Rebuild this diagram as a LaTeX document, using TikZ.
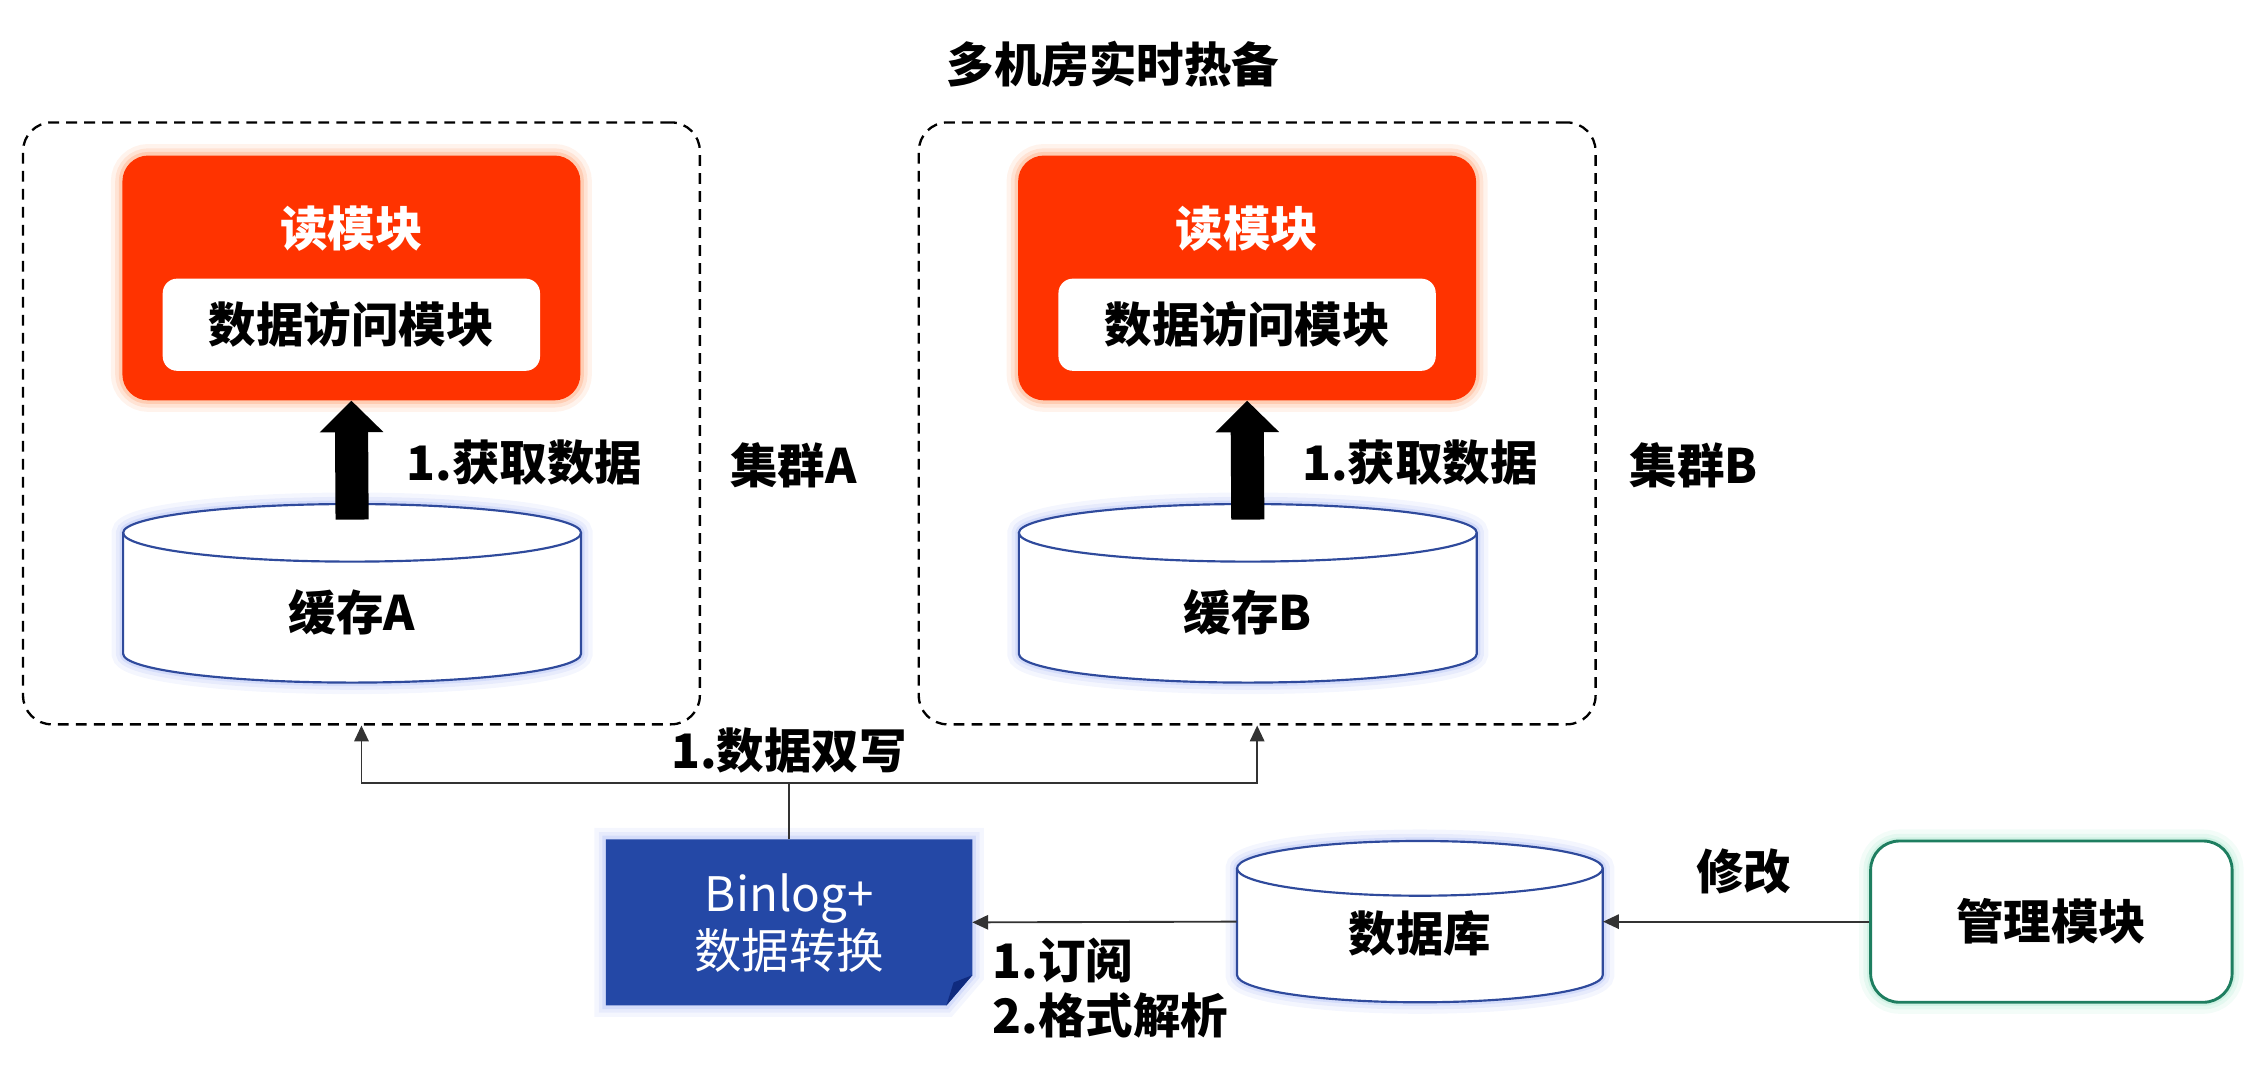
\documentclass[tikz,border=0pt]{standalone}
\usepackage{fontspec}
\setmainfont{Noto Sans CJK SC}
\usetikzlibrary{arrows.meta}
\definecolor{readred}{HTML}{FF3300}
\definecolor{redglow}{HTML}{FF9A66}
\definecolor{binblue}{HTML}{2448A6}
\definecolor{binfold}{HTML}{0F2A7E}
\definecolor{cylblue}{HTML}{2F4A9C}
\definecolor{cylglowc}{HTML}{A8B8F5}
\definecolor{mgmtgreen}{HTML}{1E7E60}
\definecolor{mgmtglowc}{HTML}{9FE5C8}
\definecolor{linegray}{HTML}{333333}
\newcommand\mycyl[5]{%
  \path[glow=cylglowc, fill=white] (#1-#2,#3+#5) -- (#1-#2,#4-#5) arc[start angle=180,end angle=0,x radius=#2,y radius=#5] -- (#1+#2,#3+#5) arc[start angle=0,end angle=-180,x radius=#2,y radius=#5] -- cycle;
  \draw[cylline] (#1-#2,#3+#5) -- (#1-#2,#4-#5) arc[start angle=180,end angle=0,x radius=#2,y radius=#5] -- (#1+#2,#3+#5);
  \draw[cylline] (#1,#3+#5) ellipse[x radius=#2,y radius=#5];
}
\begin{document}
\begin{tikzpicture}[x=1pt,y=-1pt,
  every node/.style={font=\fontsize{33}{40}\selectfont\bfseries, inner sep=0pt},
  cluster/.style={draw=black, line width=1.6pt, dash pattern=on 7.5pt off 5pt, rounded corners=20pt, minimum width=470pt, minimum height=418pt},
  glow/.style={preaction={draw=#1, draw opacity=0.12, line width=16pt}, preaction={draw=#1, draw opacity=0.18, line width=10pt}, preaction={draw=#1, draw opacity=0.3, line width=5pt}},
  readbox/.style={fill=readred, rounded corners=18pt, minimum width=318pt, minimum height=170pt, glow=redglow},
  innerbox/.style={fill=white, rounded corners=10pt, minimum width=262pt, minimum height=64pt, text=black},
  cylline/.style={draw=cylblue, line width=1.5pt},
  mgmtbox/.style={draw=mgmtgreen, line width=2pt, fill=white, rounded corners=20pt, minimum width=251pt, minimum height=112pt, glow=mgmtglowc},
  conn/.style={draw=linegray, line width=1.3pt, -{Triangle[width=10pt,length=11pt]}},
  plainline/.style={draw=linegray, line width=1.3pt},
  bigarrow/.style={draw=black, line width=23pt, -{Triangle[width=43pt,length=22pt]}},
  lbl/.style={text=black}
]
\useasboundingbox (0,0) rectangle (1568,743.7);

% title
\node[lbl] (title) at (773,45) {多机房实时热备};

% clusters
\node[cluster] (clusterA) at (251,294) {};
\node[cluster] (clusterB) at (873,294) {};

% cluster A
\node[readbox] (readA) at (244,193) {};
\node[text=white] (readAt) at (244,159) {读模块};
\node[innerbox] (dataA) at (244,225.5) {数据访问模块};
\mycyl{244.5}{159}{350}{474}{20}
\node[minimum width=318pt, minimum height=124pt] (cacheA) at (244.5,412) {};
\node (cacheAt) at (244.5,425) {缓存A};
\draw[bigarrow] ([yshift=-11pt]cacheA.north) -- (readA.south);
\node[anchor=west] (getA) at (282,321) {1.获取数据};
\node (labA) at (551,323) {集群A};

% cluster B
\node[readbox] (readB) at (866,193) {};
\node[text=white] (readBt) at (866,159) {读模块};
\node[innerbox] (dataB) at (866,225.5) {数据访问模块};
\mycyl{866.5}{159}{350}{474}{20}
\node[minimum width=318pt, minimum height=124pt] (cacheB) at (866.5,412) {};
\node (cacheBt) at (866.5,425) {缓存B};
\draw[bigarrow] ([yshift=-11pt]cacheB.north) -- (readB.south);
\node[anchor=west] (getB) at (904,321) {1.获取数据};
\node (labB) at (1176,323) {集群B};

% binlog
\node[minimum width=254pt, minimum height=115pt] (binlog) at (548,640.5) {};
\path[glow=cylglowc, fill=binblue] (binlog.north west) -- (binlog.north east) -- ([yshift=21pt]binlog.south east) -- ([xshift=-18pt]binlog.south east) -- (binlog.south west) -- cycle;
\fill[binfold] ([xshift=-18pt]binlog.south east) -- ([yshift=21pt]binlog.south east) -- ([xshift=-13pt,yshift=16pt]binlog.south east) -- cycle;
\node[text=white, align=center, font=\fontsize{33}{40}\selectfont\mdseries] (bintext) at (548,641) {Binlog+\\数据转换};

% database
\mycyl{986}{127}{584}{696}{19}
\node[minimum width=254pt, minimum height=112pt] (db) at (986,640) {};
\node (dbt) at (986,648) {数据库};

% management
\node[mgmtbox] (mgmt) at (1424.5,640) {管理模块};

% connectors
\draw[conn] (mgmt.west) -- (db.east);
\draw[conn] (db.west) -- (binlog.east);
\draw[plainline] (binlog.north) -- ++(0,-39) coordinate (split);
\draw[conn] (split) -| (clusterA.south);
\draw[conn] (split) -| (clusterB.south);

% labels
\node (modify) at (1211,605) {修改};
\node[anchor=west] (sub1) at (689,667) {1.订阅};
\node[anchor=west] (sub2) at (689,705) {2.格式解析};
\node (dual) at (548,521) {1.数据双写};
\end{tikzpicture}
\end{document}
